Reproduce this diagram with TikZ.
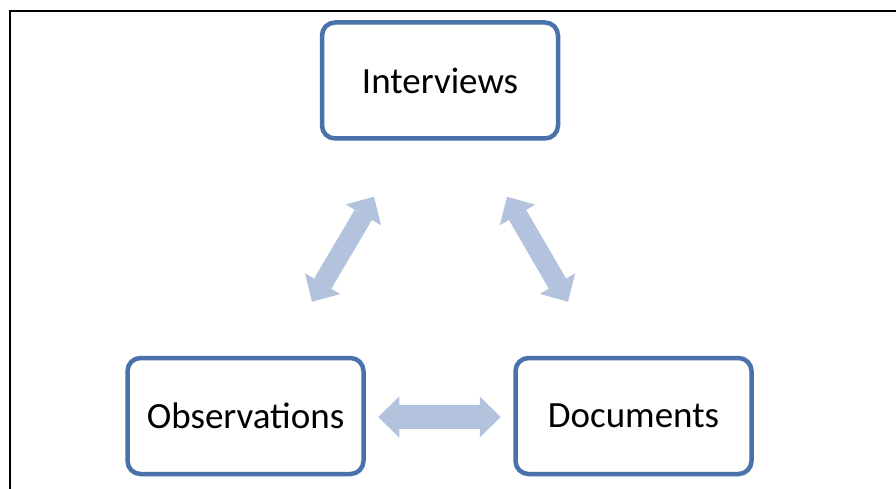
\documentclass[tikz,border=0pt]{standalone}
\usepackage{fontspec}
\setmainfont{Carlito}
\usetikzlibrary{arrows.meta}
\usetikzlibrary{calc}
\definecolor{boxblue}{RGB}{74,114,170}
\definecolor{arrowblue}{RGB}{179,195,222}
\tikzset{
    source/.style={draw=boxblue, line width=4.5pt, rounded corners=13pt, fill=white,
        minimum width=236pt, minimum height=116pt, font=\fontsize{37}{44}\selectfont},
    link/.style={arrowblue, line width=24pt,
        {Triangle[width=41pt,length=21pt,line width=0pt]}-{Triangle[width=41pt,length=21pt,line width=0pt]}}
}
\begin{document}
\begin{tikzpicture}[x=1pt,y=-1pt]

    \useasboundingbox (0,0) rectangle (896,489);
    \draw[line width=2pt] (10,489) -- (10,11) -- (896,11);

    \node[source] (int) at (440,80.5) {Interviews};
    \node[source] (obs) at (245.5,416) {Observations};
    \node[source] (doc) at (633.5,416) {Documents};

    \coordinate (obs-int) at ($(obs.north)+(66.5,-54)$);
    \coordinate (int-obs) at ($(int.south)+(-66,56)$);
    \coordinate (int-doc) at ($(int.south)+(67,56)$);
    \coordinate (doc-int) at ($(doc.north)+(-65.5,-54)$);

    \draw[link, line width=20pt] (obs-int) -- (int-obs);
    \draw[link, line width=20pt] (int-doc) -- (doc-int);
    \draw[link, shorten <=12.5pt, shorten >=12.5pt] ([yshift=-1pt]obs.east) -- ([yshift=-1pt]doc.west);
\end{tikzpicture}
\end{document}
